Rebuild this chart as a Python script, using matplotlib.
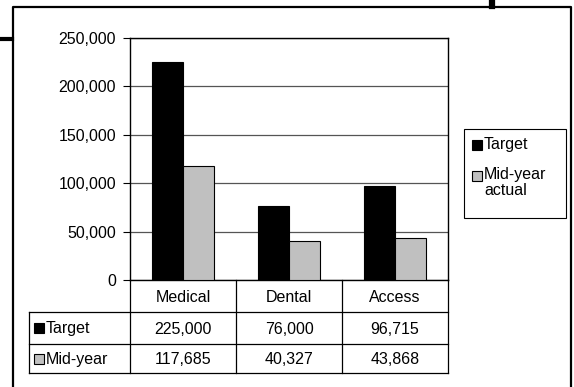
import matplotlib
matplotlib.use("Agg")
import matplotlib.pyplot as plt
from matplotlib.patches import Rectangle
from matplotlib.ticker import FuncFormatter

plt.rcParams['font.family'] = ['Liberation Sans', 'DejaVu Sans']

categories = ['Medical', 'Dental', 'Access']
target = [225000, 76000, 96715]
midyear = [117685, 40327, 43868]
series_names = ['Target', 'Mid-year actual']
row_labels = ['Target', 'Mid-year']
colors = ['#000000', '#c0c0c0']

W, H = 574, 387
FS = 11.5
fig = plt.figure(figsize=(W / 100, H / 100), dpi=100)

# plot area in pixel box: x 130..448, y 38..280
px0, px1, py0, py1 = 130, 448, 38, 280
ax = fig.add_axes([px0 / W, 1 - py1 / H, (px1 - px0) / W, (py1 - py0) / H])
n = len(categories)
xs = list(range(n))
bw = 0.29
ax.bar([x - bw for x in xs], target, bw, align='edge', color=colors[0],
       edgecolor='black', linewidth=0.8, zorder=3)
ax.bar(xs, midyear, bw, align='edge', color=colors[1],
       edgecolor='black', linewidth=0.8, zorder=3)
ax.set_xlim(-0.5, n - 0.5)
ax.set_ylim(0, 250000)
ax.set_yticks(range(0, 250001, 50000))
ax.yaxis.set_major_formatter(FuncFormatter(lambda v, p: f'{int(v):,}'))
ax.tick_params(axis='y', length=5, width=0.8, labelsize=FS, pad=5, color='black')
ax.set_xticks([])
ax.grid(axis='y', color='#555555', linewidth=0.9, zorder=0)
for s in ax.spines.values():
    s.set_color('black')
    s.set_linewidth(1.0)

# overlay for the frame, data table and legend, in pixel coords
ov = fig.add_axes([0, 0, 1, 1], zorder=5)
ov.set_xlim(0, W)
ov.set_ylim(H, 0)
ov.axis('off')
ov.patch.set_alpha(0)

# outer frame
ov.plot([12.5, 12.5, 571, 571], [387, 6.5, 6.5, 387], color='black', lw=1.6)
ov.plot([0, 12], [38.5, 38.5], color='black', lw=3)
ov.plot([492, 492], [0, 6], color='black', lw=4.5)

# data table
col_w = (px1 - px0) / n
row_h = [280, 312, 344, 373]
tx0 = 29
lk = dict(color='black', lw=0.9)
for i in range(n + 1):
    ov.plot([px0 + i * col_w] * 2, [row_h[0], row_h[-1]], **lk)
ov.plot([tx0, tx0], [row_h[1], row_h[-1]], **lk)
for y in row_h[1:]:
    ov.plot([tx0, px1], [y, y], **lk)
for i, c in enumerate(categories):
    ov.text(px0 + (i + 0.5) * col_w, (row_h[0] + row_h[1]) / 2 + 1, c,
            ha='center', va='center', fontsize=FS)
for r, (lab, vals) in enumerate(zip(row_labels, [target, midyear])):
    yc = (row_h[r + 1] + row_h[r + 2]) / 2
    ov.add_patch(Rectangle((34, yc - 5), 10, 10, facecolor=colors[r],
                           edgecolor='black', lw=0.8))
    ov.text(46, yc + 1, lab, ha='left', va='center', fontsize=FS)
    for i, v in enumerate(vals):
        ov.text(px0 + (i + 0.5) * col_w, yc + 1, f'{v:,}',
                ha='center', va='center', fontsize=FS)

# legend
ov.add_patch(Rectangle((464, 129), 102, 89, facecolor='white',
                       edgecolor='black', lw=0.8))
ov.add_patch(Rectangle((472, 140), 10, 10, facecolor=colors[0],
                       edgecolor='black', lw=0.8))
ov.text(484, 145, series_names[0], ha='left', va='center', fontsize=FS)
ov.add_patch(Rectangle((472, 170.5), 10, 10, facecolor=colors[1],
                       edgecolor='black', lw=0.8))
ov.text(484, 167.5, series_names[1].replace(' ', '\n'), ha='left', va='top',
        fontsize=FS, linespacing=1.05)

fig.savefig('out.png', dpi=100)
